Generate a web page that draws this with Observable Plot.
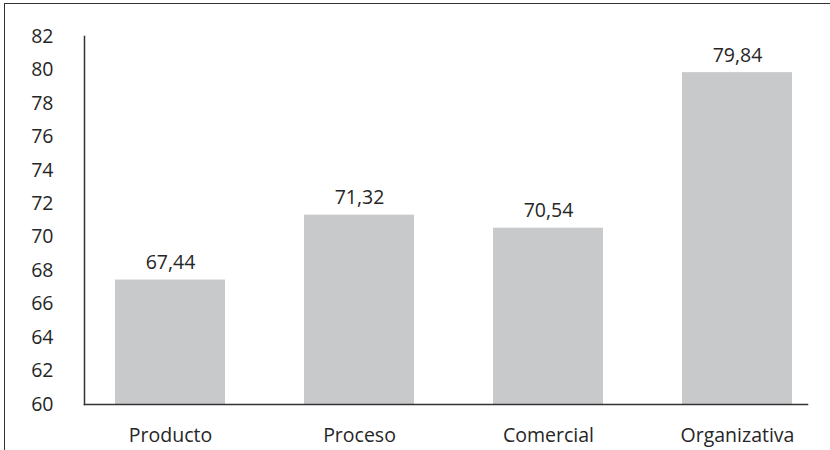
<!DOCTYPE html>
<html>
<head>
<meta charset="utf-8">
<script src="https://cdn.jsdelivr.net/npm/d3@7"></script>
<script src="https://cdn.jsdelivr.net/npm/@observablehq/plot@0.6"></script>
<style>
  html, body { margin: 0; padding: 0; background: #fff; }
  #wrap { position: relative; width: 830px; height: 450px; overflow: hidden; }
  #border { position: absolute; left: 4px; top: 3px; width: 840px; height: 460px; border-left: 1.5px solid #333; border-top: 1.5px solid #333; box-sizing: border-box; pointer-events: none; }
  svg { display: block; }
</style>
</head>
<body>
<div id="wrap"><div id="border"></div></div>
<script>
const categories = ["Producto", "Proceso", "Comercial", "Organizativa"];
const values = [67.44, 71.32, 70.54, 79.84];
const yTicks = [60, 62, 64, 66, 68, 70, 72, 74, 76, 78, 80, 82];

const data = categories.map((c, i) => ({ cat: c, val: values[i] }));
const fmt = v => v.toFixed(2).replace(".", ",");

const chart = Plot.plot({
  width: 830,
  height: 450,
  marginLeft: 84,
  marginRight: 23,
  marginTop: 36,
  marginBottom: 46,
  style: { fontFamily: "'Open Sans', sans-serif", fontSize: "19.5px", color: "#262626", background: "transparent" },
  x: { domain: categories, range: [75.5, 831.5], paddingInner: 0.42, paddingOuter: 0.21, label: null },
  y: { domain: [60, 82], ticks: yTicks, label: null },
  marks: [
    Plot.barY(data, { x: "cat", y1: 60, y2: "val", fill: "#c8c9cb" }),
    Plot.text(data, { x: "cat", y: "val", text: d => fmt(d.val), lineAnchor: "bottom", dy: -11, fill: "#262626", fontSize: 19.5 }),
    Plot.axisY({ ticks: yTicks, tickSize: 0, tickPadding: 31, fontSize: 19.5, tickFormat: d => String(d) }),
    Plot.axisX({ tickSize: 0, tickPadding: 24, fontSize: 19.5 }),
    Plot.frame({ anchor: "left", stroke: "#333", strokeWidth: 1.5 }),
    Plot.frame({ anchor: "bottom", stroke: "#333", strokeWidth: 1.5 })
  ]
});
document.getElementById("wrap").prepend(chart);
</script>
</body>
</html>
